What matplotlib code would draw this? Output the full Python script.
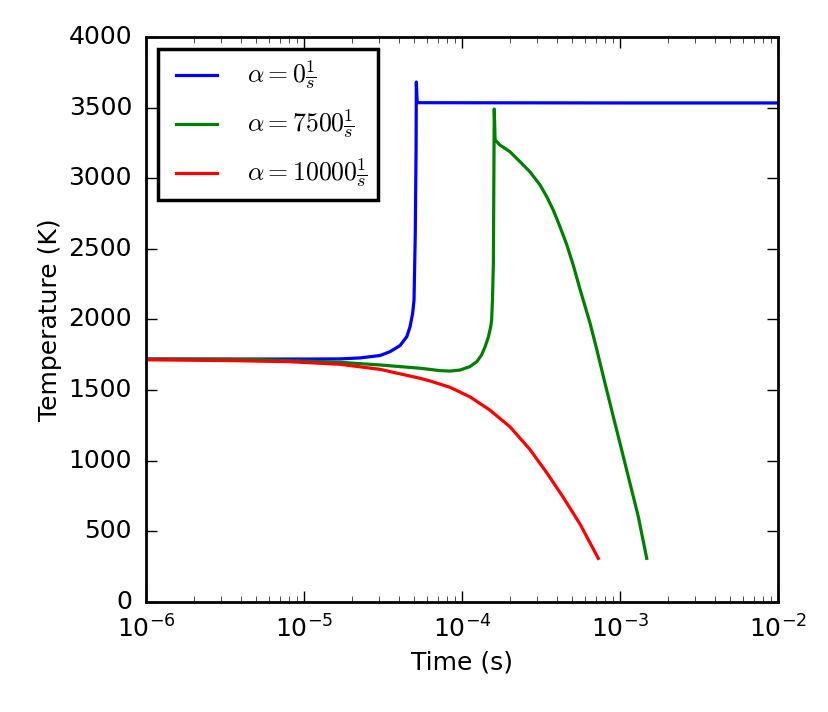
import matplotlib
matplotlib.use('Agg')
import matplotlib.pyplot as plt
import matplotlib.ticker as ticker
import numpy as np

plt.style.use('classic')
plt.rcParams['mathtext.fontset'] = 'cm'
plt.rcParams['axes.unicode_minus'] = False

# alpha = 0 1/s
t_blue = [1e-6, 5e-6, 1e-5, 1.69e-5, 2.26e-5, 3.03e-5, 3.5e-5, 4.05e-5, 4.47e-5, 4.69e-5,
          4.87e-5, 4.97e-5, 5.06e-5, 5.12e-5, 5.14e-5, 5.2e-5, 5.3e-5, 1e-3, 1e-2]
T_blue = [1720, 1720, 1720, 1721, 1728, 1745, 1772, 1815, 1878, 1949,
          2044, 2138, 2600, 3200, 3681, 3545, 3535, 3533, 3533]

# alpha = 7500 1/s
t_green = [1e-6, 5e-6, 1.03e-5, 1.69e-5, 3.03e-5, 5.42e-5, 7.26e-5, 8.4e-5, 9.71e-5, 1.12e-4,
           1.24e-4, 1.33e-4, 1.40e-4, 1.47e-4, 1.52e-4, 1.54e-4, 1.56e-4, 1.58e-4, 1.60e-4,
           1.62e-4, 1.74e-4, 2.01e-4, 2.33e-4, 2.69e-4, 3.12e-4, 3.44e-4, 3.78e-4, 4.17e-4,
           4.60e-4, 5.06e-4, 5.58e-4, 6.46e-4, 7.12e-4, 8.04e-4, 9.07e-4, 1.025e-3, 1.157e-3,
           1.306e-3, 1.476e-3]
T_green = [1720, 1716, 1705, 1697, 1678, 1655, 1638, 1635, 1642, 1666,
           1701, 1749, 1807, 1878, 1949, 1996, 2150, 2400, 3490,
           3271, 3235, 3188, 3117, 3046, 2952, 2869, 2775, 2657,
           2530, 2385, 2215, 1975, 1790, 1548, 1312, 1076, 840,
           604, 309]

# alpha = 10000 1/s
t_red = [1e-6, 3.94e-6, 8.15e-6, 1.69e-5, 3.03e-5, 5.42e-5, 6.27e-5, 8.4e-5, 1.124e-4, 1.5e-4,
         2.01e-4, 2.69e-4, 3.44e-4, 4.38e-4, 5.58e-4, 7.29e-4]
T_red = [1715, 1708, 1701, 1683, 1647, 1584, 1565, 1520, 1452, 1359,
         1241, 1080, 915, 740, 552, 309]

labels = [r'$\alpha = 0\frac{1}{s}$', r'$\alpha = 7500\frac{1}{s}$', r'$\alpha = 10000\frac{1}{s}$']


def logFmt(x, pos):
	return r'$\mathdefault{10^{%d}}$' % int(round(np.log10(x)))


fig = plt.figure(figsize=(8.29, 7.12), dpi=100, facecolor='white')
ax = fig.add_axes([146 / 829, 1 - 602 / 712, 632 / 829, 565 / 712])
ax.plot(t_blue, T_blue, color='b', lw=2.3, label=labels[0])
ax.plot(t_green, T_green, color='g', lw=2.3, label=labels[1])
ax.plot(t_red, T_red, color='r', lw=2.3, label=labels[2])
ax.set_xscale('log')
ax.set_xlim(1e-6, 1e-2)
ax.set_ylim(0, 4000)
ax.xaxis.set_major_formatter(ticker.FuncFormatter(logFmt))
ax.tick_params(labelsize=18, width=1, length=8, pad=10)
ax.tick_params(which='minor', length=4)
for sp in ax.spines.values():
	sp.set_linewidth(2)
ax.set_xlabel('Time (s)', fontsize=18)
ax.set_ylabel('Temperature (K)', fontsize=18)
leg = ax.legend(loc='upper left', fontsize=18.5, handlelength=2.2, handletextpad=0.9,
                borderpad=0.4, labelspacing=0.65, borderaxespad=0.45)
leg.get_frame().set_linewidth(2.5)
fig.savefig('out.png', dpi=100, facecolor='white')
